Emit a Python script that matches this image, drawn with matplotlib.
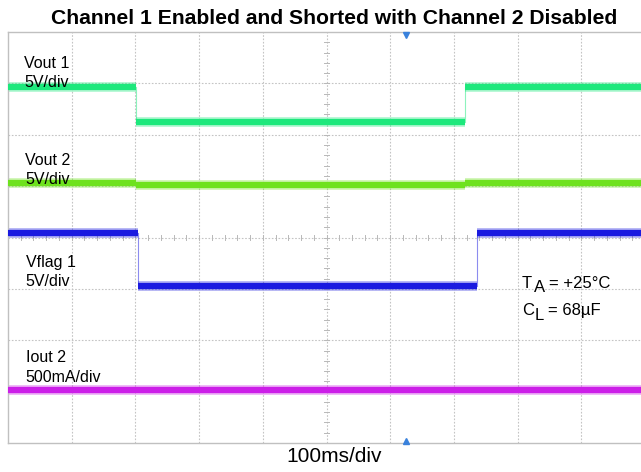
import numpy as np
import matplotlib
matplotlib.use("Agg")
import matplotlib.pyplot as plt

plt.rcParams['font.family'] = ['Liberation Sans', 'DejaVu Sans']

# ── scope traces (time in ms, level in divisions from the bottom) ──
vout1_t = [0, 201, 201, 717, 717, 1000]
vout1 = [6.93, 6.93, 6.25, 6.25, 6.93, 6.93]

vout2_t = [0, 201, 201, 717, 717, 1000]
vout2 = [5.06, 5.06, 5.02, 5.02, 5.06, 5.06]

vflag1_t = [0, 204, 204, 736, 736, 1000]
vflag1 = [4.08, 4.08, 3.05, 3.05, 4.08, 4.08]

iout2_t = [0, 1000]
iout2 = [1.03, 1.03]

trigger_t = 625

traces = [
    (vout1_t, vout1, "#1de87c"),
    (vout2_t, vout2, "#6ee21e"),
    (vflag1_t, vflag1, "#1a1ae0"),
    (iout2_t, iout2, "#cc1ee8"),
]

labels = [
    (25, 7.38, "Vout 1"), (25, 7.01, "5V/div"),
    (27, 5.49, "Vout 2"), (27, 5.12, "5V/div"),
    (28, 3.52, "Vflag 1"), (28, 3.15, "5V/div"),
    (28, 1.67, "Iout 2"), (28, 1.28, "500mA/div"),
]

fig = plt.figure(figsize=(6.41, 4.72), dpi=100)
ax = fig.add_axes([8 / 641, 29 / 472, 637 / 641, 411 / 472])
ax.set_xlim(0, 1000)
ax.set_ylim(0, 8)

# graticule
for x in range(100, 1000, 100):
    ax.axvline(x, color="#c4c4c4", lw=0.8, ls=(0, (1.5, 1.5)), zorder=0)
for y in range(1, 8):
    ax.axhline(y, color="#c4c4c4", lw=0.8, ls=(0, (1.5, 1.5)), zorder=0)
for y in np.arange(0.2, 8, 0.2):
    ax.plot([496, 504], [y, y], color="#b8b8b8", lw=0.7, zorder=0)
for x in np.arange(20, 1000, 20):
    ax.plot([x, x], [3.96, 4.04], color="#b8b8b8", lw=0.7, zorder=0)

for s in ax.spines.values():
    s.set_color("#c0c0c0")
    s.set_linewidth(1.0)
ax.set_xticks([])
ax.set_yticks([])

# traces: thick levels, thin transitions
for t, v, c in traces:
    for i in range(len(t) - 1):
        if v[i] == v[i + 1]:
            ax.plot([t[i], t[i + 1]], [v[i], v[i + 1]], color=c, lw=7,
                    alpha=0.35, solid_capstyle="butt", zorder=2)
            ax.plot([t[i], t[i + 1]], [v[i], v[i + 1]], color=c, lw=4.5,
                    solid_capstyle="butt", zorder=3)
        else:
            ax.plot([t[i], t[i + 1]], [v[i], v[i + 1]], color=c, lw=0.8,
                    alpha=0.5, zorder=2)

# trigger markers
ax.plot([trigger_t], [7.95], marker="v", ms=5, color="#3a82dc", clip_on=False, zorder=4)
ax.plot([trigger_t], [0.04], marker="^", ms=5, color="#3a82dc", clip_on=False, zorder=4)

for x, y, s in labels:
    ax.text(x, y, s, fontsize=11.5, va="center", ha="left", zorder=5)

# conditions with full-size subscripts, offsets in points
for y, main, sub, rest, dx_sub, dx_rest in [
    (3.11, "T", "A", "= +25°C", 8.3, 19.3),
    (2.57, "C", "L", "= 68µF", 9.0, 19.0),
]:
    kw = dict(fontsize=12, va="center", ha="left", zorder=5, textcoords="offset points")
    ax.annotate(main, (807, y), xytext=(0, 0), **kw)
    ax.annotate(sub, (807, y), xytext=(dx_sub, -3), **kw)
    ax.annotate(rest, (807, y), xytext=(dx_rest, 0), **kw)

fig.text(334 / 641, 1 - 18 / 472, "Channel 1 Enabled and Shorted with Channel 2 Disabled",
         fontsize=15.2, fontweight="bold", ha="center", va="center")
fig.text(334 / 641, 1 - 457 / 472, "100ms/div", fontsize=15, ha="center", va="center")

fig.savefig("out.png", dpi=100)
